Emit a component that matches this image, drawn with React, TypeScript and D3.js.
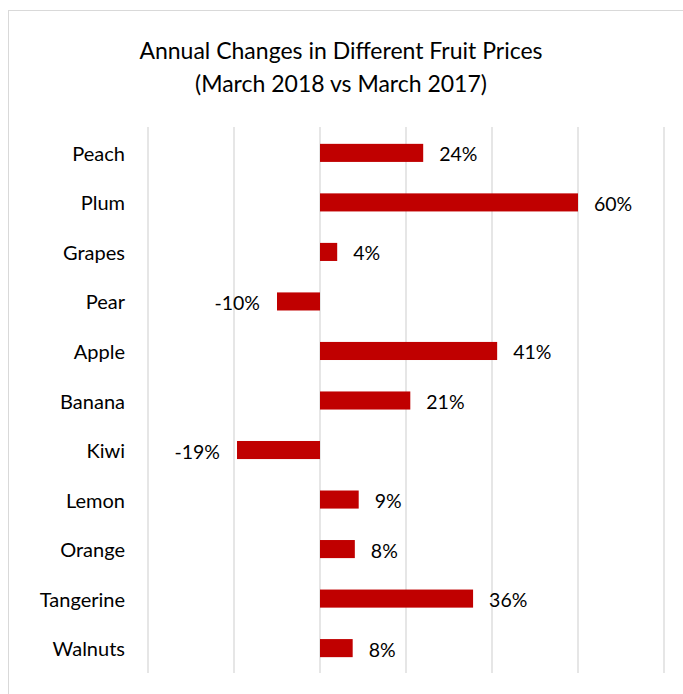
import React from "react";
import * as d3 from "d3";

const categories = ["Peach", "Plum", "Grapes", "Pear", "Apple", "Banana", "Kiwi", "Lemon", "Orange", "Tangerine", "Walnuts"];
const values = [24, 60, 4, -10, 41.2, 21, -19.3, 9, 8.1, 35.6, 7.6];
const gridTicks = [-40, -20, 0, 20, 40, 60, 80];
const titleLines = ["Annual Changes in Different Fruit Prices", "(March 2018 vs March 2017)"];

const W = 683;
const H = 694;
const FONT = "Lato, 'Open Sans', sans-serif";

export default function App() {
  const x = d3.scaleLinear().domain([-40, 80]).range([148, 664]);
  const y = d3.scaleBand<string>().domain(categories).range([128, 673]).paddingInner(0.635).paddingOuter(0.32);
  const bh = y.bandwidth();
  return (
    <svg width={W} height={H} style={{ position: "absolute", left: 0, top: 0, background: "#fff" }} fontFamily={FONT}>
      <rect x={8.5} y={10.5} width={W + 10} height={H + 10} fill="#fff" stroke="#d9d9d9" strokeWidth={1} />
      {titleLines.map((t, i) => (
        <text key={i} x={341} y={59 + i * 33} textAnchor="middle" fontSize={23} fill="#000">{t}</text>
      ))}
      {gridTicks.map((t) => (
        <line key={t} x1={x(t)} x2={x(t)} y1={127} y2={673} stroke="#d9d9d9" strokeWidth={1.3} />
      ))}
      {categories.map((c, i) => {
        const v = values[i];
        const yc = (y(c) as number) + bh / 2;
        const x0 = x(Math.min(0, v));
        const x1 = x(Math.max(0, v));
        return (
          <g key={c}>
            <rect x={x0} y={yc - bh / 2} width={x1 - x0} height={bh} fill="#c00000" />
            <text x={125} y={yc} textAnchor="end" dominantBaseline="central" fontSize={20} fill="#000">{c}</text>
            <text
              x={v >= 0 ? x1 + 16 : x0 - 17}
              y={yc + 1}
              textAnchor={v >= 0 ? "start" : "end"}
              dominantBaseline="central"
              fontSize={19.5}
              fill="#000"
            >{`${Math.round(v)}%`}</text>
          </g>
        );
      })}
    </svg>
  );
}
